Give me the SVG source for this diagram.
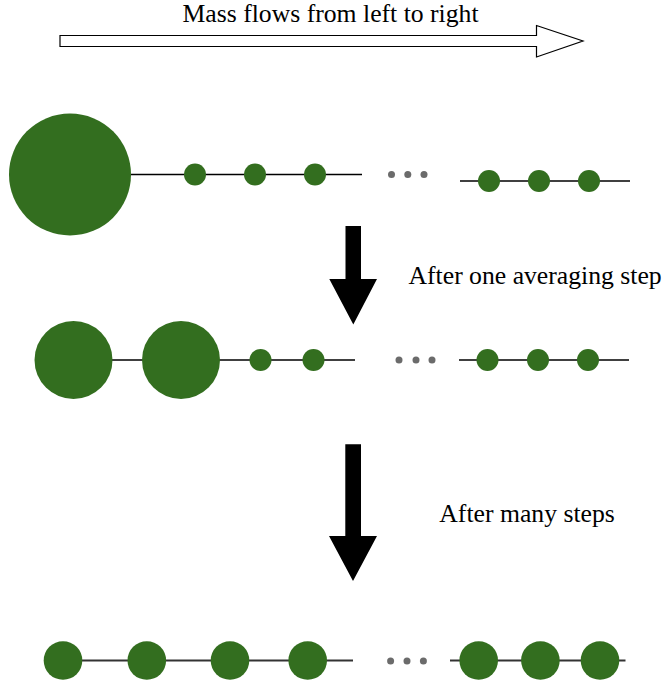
<svg xmlns="http://www.w3.org/2000/svg" width="666" height="684" viewBox="0 0 666 684">
<style>
.lbl{font-family:"Liberation Serif","Times New Roman",serif;font-size:25.7px;fill:#000}
.node{fill:#336e1f}
.dot{fill:#6b6b6b}
.edge{stroke:#000;stroke-width:1.5;fill:none}
.edge3{stroke:#333;stroke-width:2;fill:none}
.down{fill:#000}
</style>
<rect width="666" height="684" fill="#fff"/>
<g id="flow-arrow">
<polygon points="60,35.5 536.5,35.5 536.5,25.5 583,41 536.5,57 536.5,46.5 60,46.5" fill="#fff" stroke="#000" stroke-width="1.2"/>
<text class="lbl" x="182.5" y="22">Mass flows from left to right</text>
</g>
<g id="connectors">
<line class="edge" x1="131" y1="174.5" x2="362" y2="174.5"/>
<line class="edge" x1="460" y1="181" x2="630" y2="181"/>
<line class="edge" x1="112" y1="360" x2="355" y2="360"/>
<line class="edge" x1="459" y1="360" x2="629" y2="360"/>
<line class="edge3" x1="63" y1="660.5" x2="353" y2="660.5"/>
<line class="edge3" x1="450" y1="660.5" x2="625.5" y2="660.5"/>
</g>
<g id="row1">
<circle class="node" cx="70" cy="174.5" r="61"/>
<circle class="node" cx="195" cy="174.5" r="11"/>
<circle class="node" cx="255" cy="174.5" r="11"/>
<circle class="node" cx="315" cy="174.5" r="11"/>
<circle class="dot" cx="391.5" cy="174.5" r="3.5"/>
<circle class="dot" cx="407.8" cy="174.5" r="3.5"/>
<circle class="dot" cx="424" cy="174.5" r="3.5"/>
<circle class="node" cx="489" cy="181" r="11"/>
<circle class="node" cx="539" cy="181" r="11"/>
<circle class="node" cx="589" cy="181" r="11"/>
</g>
<g id="step1">
<polygon class="down" points="345.5,226 361,226 361,279 377,279 353.3,324.5 329.3,279 345.5,279"/>
<text class="lbl" x="408.5" y="283.5">After one averaging step</text>
</g>
<g id="row2">
<circle class="node" cx="73.5" cy="360" r="39"/>
<circle class="node" cx="181" cy="360" r="39"/>
<circle class="node" cx="260.5" cy="360" r="11"/>
<circle class="node" cx="313.5" cy="360" r="11"/>
<circle class="dot" cx="399" cy="360" r="3.5"/>
<circle class="dot" cx="416" cy="360" r="3.5"/>
<circle class="dot" cx="432" cy="360" r="3.5"/>
<circle class="node" cx="487.5" cy="360" r="11"/>
<circle class="node" cx="538" cy="360" r="11"/>
<circle class="node" cx="588" cy="360" r="11"/>
</g>
<g id="step2">
<polygon class="down" points="345.3,444.3 361,444.3 361,536 377,536 353,581 329,536 345.3,536"/>
<text class="lbl" x="439.3" y="521.7">After many steps</text>
</g>
<g id="row3">
<circle class="node" cx="63" cy="660.5" r="19.3"/>
<circle class="node" cx="146.8" cy="660.5" r="19.3"/>
<circle class="node" cx="230" cy="660.5" r="19.3"/>
<circle class="node" cx="307.7" cy="660.5" r="19.3"/>
<circle class="dot" cx="390.6" cy="661" r="3.5"/>
<circle class="dot" cx="407" cy="661" r="3.5"/>
<circle class="dot" cx="423.4" cy="661" r="3.5"/>
<circle class="node" cx="478.7" cy="660.5" r="19.3"/>
<circle class="node" cx="540.4" cy="660.5" r="19.3"/>
<circle class="node" cx="600" cy="660.5" r="19.3"/>
</g>
</svg>
